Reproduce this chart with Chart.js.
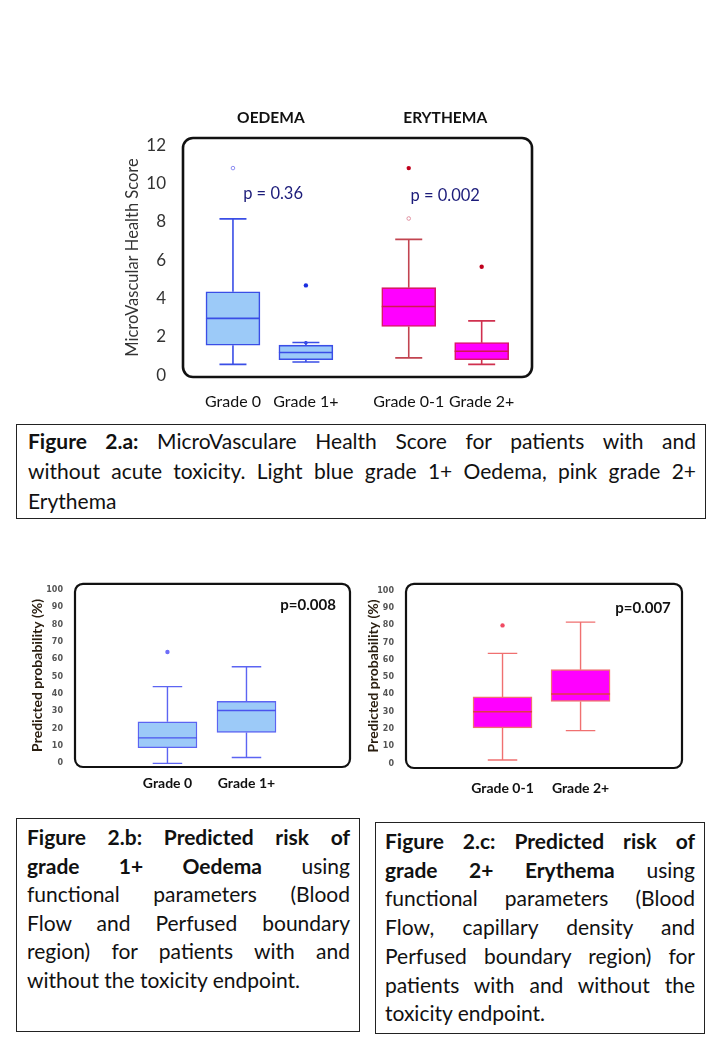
<!DOCTYPE html>
<html>
<head>
<meta charset="utf-8">
<script src="https://cdn.jsdelivr.net/npm/chart.js@4.4.0/dist/chart.umd.min.js"></script>
<style>
body { margin: 0; background: #fff; width: 720px; height: 1040px; position: relative; overflow: hidden; font-family: Lato, "Open Sans", sans-serif; color: #111; }
canvas { position: absolute; }
.cap { position: absolute; border: 1px solid #222; box-sizing: border-box; }
.cap div { text-align: justify; text-align-last: justify; white-space: nowrap; }
.cap div.last { text-align-last: left; }
</style>
</head>
<body>
<canvas id="figA" width="445" height="325" style="left:100px;top:95px"></canvas>
<canvas id="figB" width="340" height="230" style="left:20px;top:575px"></canvas>
<canvas id="figC" width="340" height="230" style="left:360px;top:575px"></canvas>

<div class="cap" style="left:16px;top:424px;width:690px;height:95px;padding:1px 9px 0 11px;font-size:21px;line-height:30px">
  <div><b>Figure 2.a:</b> MicroVasculare Health Score for patients with and</div>
  <div>without acute toxicity. Light blue grade 1+ Oedema, pink grade 2+</div>
  <div class="last">Erythema</div>
</div>
<div class="cap" style="left:16px;top:818px;width:344px;height:214px;padding:4px 9px 0 10px;font-size:21px;line-height:28.6px">
  <div><b>Figure 2.b: Predicted risk of</b></div>
  <div><b>grade 1+ Oedema</b> using</div>
  <div>functional parameters (Blood</div>
  <div>Flow and Perfused boundary</div>
  <div>region) for patients with and</div>
  <div class="last">without the toxicity endpoint.</div>
</div>
<div class="cap" style="left:375px;top:822px;width:330px;height:212px;padding:4px 9px 0 9px;font-size:21px;line-height:28.7px">
  <div><b>Figure 2.c: Predicted risk of</b></div>
  <div><b>grade 2+ Erythema</b> using</div>
  <div>functional parameters (Blood</div>
  <div>Flow, capillary density and</div>
  <div>Perfused boundary region) for</div>
  <div>patients with and without the</div>
  <div class="last">toxicity endpoint.</div>
</div>

<script>
// Figure 2.a - MicroVascular Health Score
const aLabels = ['Grade 0', 'Grade 1+', 'Grade 0-1', 'Grade 2+'];
const aPos = [1, 2, 3.41, 4.41];
const aMin = [0.56, 0.68, 0.9, 0.56];
const aQ1 = [1.56, 0.8, 2.54, 0.8];
const aMed = [2.96, 1.18, 3.58, 1.24];
const aQ3 = [4.35, 1.56, 4.56, 1.7];
const aMax = [8.15, 1.7, 7.08, 2.83];
const aMean = [3.3, 1.69, 3.9, 1.6];
const aOutliers = [[], [4.68], [10.8], [5.65]];
const aMildOutliers = [[10.8], [], [8.17], []];
const aTicks = [0, 2, 4, 6, 8, 10, 12];

// Figure 2.b - predicted risk, oedema
const bLabels = ['Grade 0', 'Grade 1+'];
const bPos = [1, 2];
const bMin = [0, 3.4];
const bQ1 = [9, 17.8];
const bMed = [14.7, 30.4];
const bQ3 = [23.9, 35.7];
const bMax = [44.2, 55.6];
const bMean = [17.5, 28];
const bOutliers = [[64.1], []];

// Figure 2.c - predicted risk, erythema
const cLabels = ['Grade 0-1', 'Grade 2+'];
const cPos = [1, 2];
const cMin = [2, 19];
const cQ1 = [20.6, 35.9];
const cMed = [29.9, 40.2];
const cQ3 = [38.5, 54.3];
const cMax = [63.7, 81.8];
const cMean = [31.9, 43.8];
const cOutliers = [[79.9], []];

const probTicks = [0, 10, 20, 30, 40, 50, 60, 70, 80, 90, 100];

const FONT = 'Lato, "Open Sans", sans-serif';

function boxChart(id, d, st) {
    // whiskers, caps and median lines, drawn right after the boxes
    const whiskers = {
        id: 'whiskers',
        afterDatasetDraw(chart, args) {
            if (args.index !== 0) return;
            const ctx = chart.ctx;
            const y = chart.scales.y;
            chart.getDatasetMeta(0).data.forEach(function (bar, i) {
                const cx = bar.x, hw = bar.width / 2, cw = bar.width / 4;
                ctx.save();
                ctx.lineWidth = st.lineWidth;
                ctx.strokeStyle = st.whisker[i];
                ctx.beginPath();
                ctx.moveTo(cx, y.getPixelForValue(d.q3[i]));
                ctx.lineTo(cx, y.getPixelForValue(d.max[i]));
                ctx.moveTo(cx - cw, y.getPixelForValue(d.max[i]));
                ctx.lineTo(cx + cw, y.getPixelForValue(d.max[i]));
                ctx.moveTo(cx, y.getPixelForValue(d.q1[i]));
                ctx.lineTo(cx, y.getPixelForValue(d.min[i]));
                ctx.moveTo(cx - cw, y.getPixelForValue(d.min[i]));
                ctx.lineTo(cx + cw, y.getPixelForValue(d.min[i]));
                ctx.stroke();
                ctx.strokeStyle = st.median[i];
                ctx.beginPath();
                ctx.moveTo(cx - hw, y.getPixelForValue(d.med[i]));
                ctx.lineTo(cx + hw, y.getPixelForValue(d.med[i]));
                ctx.stroke();
                ctx.restore();
            });
        },
        afterDraw(chart) {
            const ctx = chart.ctx, a = chart.chartArea;
            const x = chart.scales.x, y = chart.scales.y;
            ctx.save();
            ctx.lineWidth = st.frameWidth;
            ctx.strokeStyle = '#111';
            ctx.beginPath();
            ctx.roundRect(a.left, a.top, a.right - a.left, a.bottom - a.top, st.radius);
            ctx.stroke();
            ctx.textAlign = 'center';
            ctx.textBaseline = 'middle';
            st.notes.forEach(function (n) {
                ctx.font = n.font;
                ctx.fillStyle = n.color;
                ctx.fillText(n.text, x.getPixelForValue(n.x), y.getPixelForValue(n.y));
            });
            ctx.restore();
        }
    };

    const outPts = [], outCol = [], mildPts = [], mildCol = [];
    d.outliers.forEach(function (list, i) {
        list.forEach(function (v) { outPts.push({ x: d.pos[i], y: v }); outCol.push(st.outlier[i]); });
    });
    (d.mild || []).forEach(function (list, i) {
        list.forEach(function (v) { mildPts.push({ x: d.pos[i], y: v }); mildCol.push(st.mild[i]); });
    });

    return new Chart(document.getElementById(id), {
        type: 'bar',
        data: {
            datasets: [{
                data: d.pos.map((p, i) => ({ x: p, y: [d.q1[i], d.q3[i]] })),
                backgroundColor: st.fill,
                borderColor: st.border,
                borderWidth: st.lineWidth,
                borderSkipped: false,
                barThickness: st.boxWidth
            }, {
                type: 'scatter',
                data: d.mean.map((v, i) => ({ x: d.pos[i], y: v })),
                pointBackgroundColor: st.mean,
                pointBorderWidth: 0,
                pointRadius: st.dot
            }, {
                type: 'scatter',
                data: outPts,
                pointBackgroundColor: outCol,
                pointBorderWidth: 0,
                pointRadius: st.dot + 0.4
            }, {
                type: 'scatter',
                data: mildPts,
                pointBackgroundColor: 'rgba(255,255,255,0)',
                pointBorderColor: mildCol,
                pointBorderWidth: 1,
                pointRadius: 1.8
            }]
        },
        options: {
            responsive: false,
            animation: false,
            layout: { padding: st.padding },
            plugins: { legend: { display: false }, tooltip: { enabled: false } },
            scales: {
                x: {
                    type: 'linear',
                    min: st.xMin,
                    max: st.xMax,
                    offset: false,
                    grid: { display: false },
                    border: { display: false },
                    afterFit: s => { s.height = st.xHeight; },
                    afterBuildTicks: s => { s.ticks = d.pos.map(v => ({ value: v })); },
                    ticks: {
                        autoSkip: false,
                        maxRotation: 0,
                        padding: st.xPad,
                        color: '#111',
                        font: st.xFont,
                        callback: (v, i) => d.labels[i]
                    }
                },
                y: {
                    min: st.yMin,
                    max: st.yMax,
                    grid: { display: false },
                    border: { display: false },
                    afterFit: s => { s.width = st.yWidth; },
                    afterBuildTicks: s => { s.ticks = d.ticks.map(v => ({ value: v })); },
                    ticks: { padding: st.yPad, color: st.tickColor, font: st.yFont },
                    title: {
                        display: true,
                        text: st.yTitle,
                        color: st.titleColor,
                        font: st.titleFont,
                        padding: { top: st.titlePad, bottom: 0 }
                    }
                }
            }
        },
        plugins: [whiskers]
    });
}

const BLUE_FILL = '#9ccaf8';
const PINK_FILL = '#ff00ff';

boxChart('figA',
    { labels: aLabels, pos: aPos, min: aMin, q1: aQ1, med: aMed, q3: aQ3, max: aMax,
      mean: aMean, outliers: aOutliers, mild: aMildOutliers, ticks: aTicks },
    {
        fill: [BLUE_FILL, BLUE_FILL, PINK_FILL, PINK_FILL],
        border: ['#3a4ee6', '#3a4ee6', '#d81868', '#d81868'],
        whisker: ['#3a4ee6', '#3a4ee6', '#c24450', '#d0304f'],
        median: ['#3a4ee6', '#3a4ee6', '#d01850', '#d01850'],
        mean: ['#1a2ee0', '#1a2ee0', '#c0001c', '#c0001c'],
        outlier: ['#1a2ee0', '#1a2ee0', '#c0001c', '#c0001c'],
        mild: ['#8a8af0', '#8a8af0', '#e090a0', '#e090a0'],
        lineWidth: 1.6, boxWidth: 54, dot: 1.8, frameWidth: 2.6, radius: 10,
        padding: { top: 43, right: 13, left: 0, bottom: 0 },
        xMin: 0.315, xMax: 5.1, yMin: -0.1, yMax: 12.37,
        xHeight: 43, yWidth: 83, xPad: 7, yPad: 9,
        xFont: { family: FONT, size: 16 },
        yFont: { family: FONT, size: 17 },
        tickColor: '#333',
        yTitle: 'MicroVascular Health Score',
        titleColor: '#333',
        titleFont: { family: FONT, size: 16.5 },
        titlePad: 23,
        notes: [
            { text: 'OEDEMA', x: 1.52, y: 13.4, font: 'bold 15.5px ' + FONT, color: '#111' },
            { text: 'ERYTHEMA', x: 3.91, y: 13.4, font: 'bold 15.5px ' + FONT, color: '#111' },
            { text: 'p = 0.36', x: 1.55, y: 9.44, font: '16.5px ' + FONT, color: '#1c1c7a' },
            { text: 'p = 0.002', x: 3.91, y: 9.34, font: '16.5px ' + FONT, color: '#1c1c7a' }
        ]
    });

boxChart('figB',
    { labels: bLabels, pos: bPos, min: bMin, q1: bQ1, med: bMed, q3: bQ3, max: bMax,
      mean: bMean, outliers: bOutliers, ticks: probTicks },
    {
        fill: [BLUE_FILL, BLUE_FILL],
        border: ['#5c64f2', '#5c64f2'],
        whisker: ['#5c64f2', '#5c64f2'],
        median: ['#4a54ee', '#4a54ee'],
        mean: ['#1414f0', '#1414f0'],
        outlier: ['#6e6ef8', '#6e6ef8'],
        lineWidth: 1.4, boxWidth: 59, dot: 1.8, frameWidth: 2.2, radius: 8,
        padding: { top: 5, right: 10, left: 0, bottom: 0 },
        xMin: -0.17, xMax: 3.31, yMin: -2.1, yMax: 103.4,
        xHeight: 38, yWidth: 55, xPad: 0, yPad: 4,
        xFont: { family: FONT, size: 14, weight: 'bold' },
        yFont: { family: '"DejaVu Sans", sans-serif', size: 8, weight: 'bold' },
        tickColor: '#555',
        yTitle: 'Predicted probability (%)',
        titleColor: '#2a1e10',
        titleFont: { family: FONT, size: 14, weight: 'bold' },
        titlePad: 9,
        notes: [
            { text: 'p=0.008', x: 2.78, y: 91, font: 'bold 15px ' + FONT, color: '#111' }
        ]
    });

boxChart('figC',
    { labels: cLabels, pos: cPos, min: cMin, q1: cQ1, med: cMed, q3: cQ3, max: cMax,
      mean: cMean, outliers: cOutliers, ticks: probTicks },
    {
        fill: [PINK_FILL, PINK_FILL],
        border: ['#f07070', '#f07070'],
        whisker: ['#f07070', '#f07070'],
        median: ['#e03a48', '#e03a48'],
        mean: ['#e00030', '#e00030'],
        outlier: ['#f04a62', '#f04a62'],
        lineWidth: 1.4, boxWidth: 59, dot: 1.8, frameWidth: 2.2, radius: 8,
        padding: { top: 4, right: 18, left: 0, bottom: 0 },
        xMin: -0.237, xMax: 3.3, yMin: -2.65, yMax: 104,
        xHeight: 37, yWidth: 46, xPad: 4, yPad: 4,
        xFont: { family: FONT, size: 14, weight: 'bold' },
        yFont: { family: '"DejaVu Sans", sans-serif', size: 8, weight: 'bold' },
        tickColor: '#555',
        yTitle: 'Predicted probability (%)',
        titleColor: '#2a1e10',
        titleFont: { family: FONT, size: 14, weight: 'bold' },
        titlePad: 5,
        notes: [
            { text: 'p=0.007', x: 2.8, y: 90, font: 'bold 15px ' + FONT, color: '#111' }
        ]
    });
</script>
</body>
</html>
